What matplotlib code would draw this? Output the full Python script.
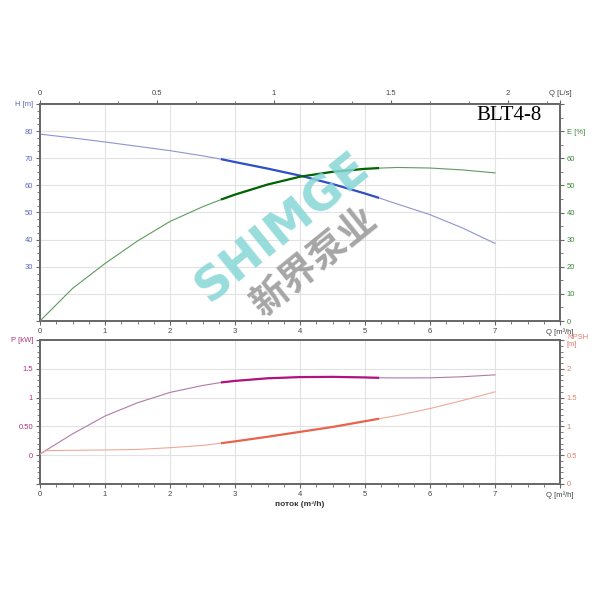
import matplotlib
matplotlib.use("Agg")
import matplotlib.pyplot as plt
import numpy as np
from matplotlib.ticker import MultipleLocator, FixedLocator

plt.rcParams["font.family"] = ["Liberation Sans", "DejaVu Sans"]

# ---- data (Q in m3/h) ----
q_h = [0, 0.5, 1, 1.5, 2, 2.5, 2.8, 3, 3.5, 4, 4.5, 5, 5.2, 5.5, 6, 6.5, 7]
head = [78.9, 77.5, 76.0, 74.4, 72.8, 70.9, 69.6, 68.6, 66.2, 63.6, 60.5,
        57.0, 55.5, 53.1, 49.2, 44.3, 38.6]

q_e = [0, 0.5, 1, 1.5, 2, 2.5, 2.8, 3, 3.5, 4, 4.5, 5, 5.2, 5.5, 6, 6.5, 7]
eff = [0, 12.0, 21.2, 29.5, 36.7, 42.1, 44.9, 46.6, 50.3, 53.2, 55.0,
       56.1, 56.35, 56.6, 56.4, 55.7, 54.6]

q_p = [0, 0.5, 1, 1.5, 2, 2.5, 2.8, 3, 3.5, 4, 4.5, 5, 5.2, 5.5, 6, 6.5, 7]
power = [0.02, 0.37, 0.68, 0.91, 1.09, 1.21, 1.265, 1.29, 1.335, 1.356, 1.36,
         1.35, 1.344, 1.342, 1.343, 1.362, 1.395]

q_n = [0, 0.1, 0.5, 1, 1.5, 2, 2.5, 2.8, 3, 3.5, 4, 4.5, 5, 5.2, 5.5, 6, 6.5, 7]
npsh = [0.52, 0.58, 0.585, 0.59, 0.60, 0.63, 0.67, 0.71, 0.74, 0.82, 0.905,
        0.99, 1.09, 1.13, 1.19, 1.31, 1.45, 1.60]

duty = (2.8, 5.2)  # operating range drawn thick

h_ticks = [10, 20, 30, 40, 50, 60, 70, 80, 90]
h_labels = ["", "", "30", "40", "50", "60", "70", "80", "H [m]"]
e_ticks = [0, 10, 20, 30, 40, 50, 60, 70, 80]
e_labels = ["0", "10", "20", "30", "40", "50", "60", "E [%]", ""]
p_ticks = [-0.5, 0, 0.5, 1, 1.5, 2]
p_labels = ["", "0", "0.50", "1", "1.5", "P [kW]"]
n_ticks = [0, 0.5, 1, 1.5, 2, 2.5]
n_labels = ["0", "0.5", "1", "1.5", "2", "NPSH\n[m]"]
x_ticks = [0, 1, 2, 3, 4, 5, 6, 7, 8]
x_labels = ["0", "1", "2", "3", "4", "5", "6", "7", "Q [m³/h]"]
ls_ticks = [0, 0.5, 1, 1.5, 2, 8 / 3.6]
ls_labels = ["0", "0.5", "1", "1.5", "2", "Q [L/s]"]

C_H, C_H2 = "#8c95d0", "#3050c8"
C_E, C_E2 = "#5f9a5f", "#006400"
C_P, C_P2 = "#b07aa8", "#b0137e"
C_N, C_N2 = "#f0a898", "#e8644e"
TXT_H, TXT_E, TXT_P, TXT_N = "#5a6abf", "#3a8a3a", "#b0307f", "#e08070"
SPINE = "#666666"
FS = 5.5


def seg(q, v, lo, hi):
    q = np.asarray(q)
    v = np.asarray(v)
    m = (q >= lo) & (q <= hi)
    return q[m], v[m]


def style_axes(ax):
    for s in ax.spines.values():
        s.set_color(SPINE)
        s.set_linewidth(1.2)
    ax.tick_params(which="major", length=3, width=0.8, color=SPINE, labelsize=FS, pad=2)
    ax.tick_params(which="minor", length=2, width=0.6, color=SPINE)


fig = plt.figure(figsize=(6, 6), dpi=100)

# ---------------- top: H and efficiency ----------------
ax1 = fig.add_axes([40 / 600, 1 - 321 / 600, 520 / 600, 217 / 600])
ax1.set_xlim(0, 8)
ax1.set_ylim(10, 90)
ax1.plot(q_h, head, color=C_H, lw=0.8, zorder=3)
ax1.plot(*seg(q_h, head, *duty), color=C_H2, lw=1.6, zorder=4)
ax1.set_yticks(h_ticks)
ax1.set_yticklabels(h_labels, color=TXT_H)
ax1.yaxis.set_minor_locator(MultipleLocator(2.5))
ax1.set_xticks(x_ticks)
ax1.set_xticklabels(x_labels, color="#444444")
ax1.xaxis.set_minor_locator(MultipleLocator(0.25))
ax1.grid(True, color="#e2e2e2", lw=0.8)
ax1.set_axisbelow(True)
style_axes(ax1)

ax1e = ax1.twinx()
ax1e.set_ylim(0, 80)
ax1e.plot(q_e, eff, color=C_E, lw=0.8, zorder=3)
ax1e.plot(*seg(q_e, eff, *duty), color=C_E2, lw=1.6, zorder=4)
ax1e.set_yticks(e_ticks)
ax1e.set_yticklabels(e_labels, color=TXT_E)
ax1e.yaxis.set_minor_locator(MultipleLocator(5))
style_axes(ax1e)

sec = ax1.secondary_xaxis("top", functions=(lambda q: q / 3.6, lambda l: l * 3.6))
sec.set_xticks(ls_ticks)
sec.set_xticklabels(ls_labels, color="#444444")
sec.xaxis.set_minor_locator(FixedLocator(np.arange(0, 2.3, 1 / 6)))
style_axes(sec)

fig.text(542 / 600, 1 - 115 / 600, "BLT4-8", family="Liberation Serif",
         fontsize=15, ha="right", va="center", color="black")

# ---------------- bottom: power and NPSH ----------------
ax2 = fig.add_axes([40 / 600, 1 - 484 / 600, 520 / 600, 144 / 600])
ax2.set_xlim(0, 8)
ax2.set_ylim(-0.5, 2.0)
ax2.plot(q_p, power, color=C_P, lw=0.8, zorder=3)
ax2.plot(*seg(q_p, power, *duty), color=C_P2, lw=1.6, zorder=4)
ax2.set_yticks(p_ticks)
ax2.set_yticklabels(p_labels, color=TXT_P)
ax2.yaxis.set_minor_locator(MultipleLocator(0.1))
ax2.set_xticks(x_ticks)
ax2.set_xticklabels(x_labels, color="#444444")
ax2.xaxis.set_minor_locator(MultipleLocator(0.25))
ax2.grid(True, color="#e2e2e2", lw=0.8)
ax2.set_axisbelow(True)
style_axes(ax2)

ax2n = ax2.twinx()
ax2n.set_ylim(0, 2.5)
ax2n.plot(q_n, npsh, color=C_N, lw=0.8, zorder=3)
ax2n.plot(*seg(q_n, npsh, *duty), color=C_N2, lw=1.6, zorder=4)
ax2n.set_yticks(n_ticks)
ax2n.set_yticklabels(n_labels, color=TXT_N, linespacing=0.9)
ax2n.yaxis.set_minor_locator(MultipleLocator(0.1))
style_axes(ax2n)

fig.text(0.5, 1 - 505 / 600, "поток (m³/h)", ha="center", va="center",
         fontsize=6, fontweight="bold", color="#333333")

# ---------------- watermark ----------------
fig.text(283 / 600, 1 - 228 / 600, "SHIMGE", ha="center", va="center",
         rotation=39, fontsize=34, fontweight="bold", color="#86d6d6",
         alpha=0.85, family="DejaVu Sans", zorder=10)
fig.text(314 / 600, 1 - 262 / 600, "新界泵业", ha="center", va="center",
         rotation=39, fontsize=27, fontweight="bold", color="#9c9c9c",
         alpha=0.9, family=["Noto Sans CJK SC", "DejaVu Sans"], zorder=10)

fig.savefig("out.png", dpi=100)
